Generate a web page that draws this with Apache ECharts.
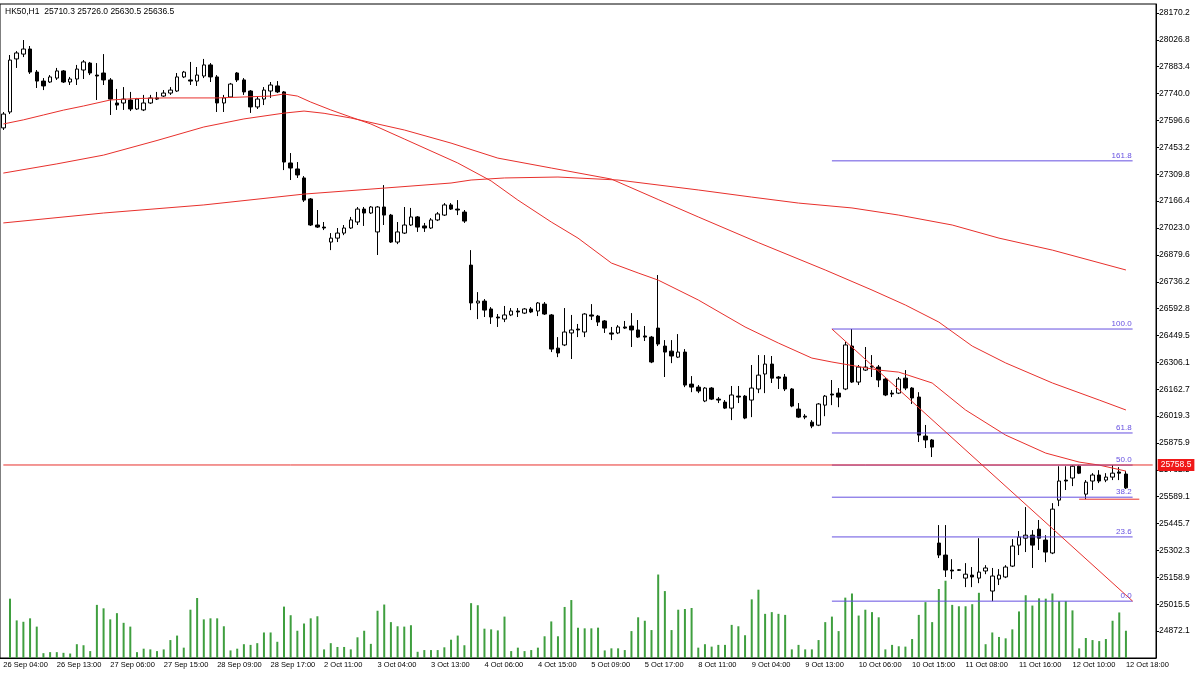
<!DOCTYPE html>
<html>
<head>
<meta charset="utf-8">
<script src="https://cdn.jsdelivr.net/npm/echarts@6/dist/echarts.min.js"></script>
<style>
html, body { margin: 0; padding: 0; background: #fff; }
#chart { width: 1200px; height: 674px; }
</style>
</head>
<body>
<div id="chart"></div>
<script>
var symbol = 'HK50,H1';

var xLabels = ['26 Sep 04:00', '26 Sep 13:00', '27 Sep 06:00', '27 Sep 15:00', '28 Sep 09:00', '28 Sep 17:00',
	'2 Oct 11:00', '3 Oct 04:00', '3 Oct 13:00', '4 Oct 06:00', '4 Oct 15:00', '5 Oct 09:00', '5 Oct 17:00',
	'8 Oct 11:00', '9 Oct 04:00', '9 Oct 13:00', '10 Oct 06:00', '10 Oct 15:00', '11 Oct 08:00', '11 Oct 16:00',
	'12 Oct 10:00', '12 Oct 18:00'];

var yTicks = ['24872.1', '25015.5', '25158.9', '25302.3', '25445.7', '25589.1', '25732.5', '25875.9',
	'26019.3', '26162.7', '26306.1', '26449.5', '26592.8', '26736.2', '26879.6', '27023.0', '27166.4',
	'27309.8', '27453.2', '27596.6', '27740.0', '27883.4', '28026.8', '28170.2'];

// [open, close, low, high]
var candles = [
	[27557, 27631, 27546, 27642], [27642, 27919, 27631, 27946], [27925, 27957, 27877, 27967], [27951, 27978, 27935, 28026],
	[27978, 27855, 27845, 27994], [27855, 27807, 27770, 27866], [27807, 27781, 27759, 27823], [27802, 27829, 27797, 27839],
	[27823, 27861, 27813, 27877], [27861, 27802, 27797, 27866], [27802, 27818, 27786, 27829], [27818, 27871, 27786, 27893],
	[27866, 27909, 27818, 27919], [27903, 27850, 27839, 27909], [27839, 27834, 27706, 27903], [27850, 27813, 27786, 27951],
	[27813, 27711, 27626, 27823], [27690, 27679, 27653, 27765], [27690, 27711, 27653, 27775], [27706, 27658, 27647, 27749],
	[27658, 27711, 27653, 27717], [27653, 27690, 27647, 27733], [27690, 27717, 27685, 27733], [27717, 27711, 27706, 27749],
	[27727, 27743, 27722, 27759], [27743, 27759, 27733, 27775], [27754, 27829, 27749, 27850], [27829, 27855, 27823, 27861],
	[27813, 27807, 27786, 27909], [27807, 27839, 27781, 27882], [27834, 27893, 27823, 27925], [27893, 27829, 27802, 27903],
	[27829, 27690, 27642, 27839], [27690, 27717, 27642, 27733], [27722, 27791, 27717, 27797], [27850, 27813, 27802, 27855],
	[27813, 27749, 27733, 27823], [27754, 27669, 27637, 27759], [27669, 27711, 27658, 27727], [27711, 27759, 27679, 27775],
	[27754, 27786, 27717, 27802], [27781, 27749, 27743, 27807], [27749, 27375, 27332, 27754], [27370, 27343, 27279, 27423],
	[27338, 27306, 27290, 27375], [27290, 27172, 27162, 27300], [27178, 27039, 27034, 27183], [27039, 27028, 27023, 27119],
	[27028, 27023, 27012, 27055], [26948, 26969, 26905, 26996], [26969, 26996, 26948, 27023], [26996, 27023, 26985, 27039],
	[27023, 27066, 27018, 27082], [27055, 27124, 27039, 27135], [27124, 27103, 27034, 27135], [27103, 27135, 27098, 27140],
	[27002, 27135, 26879, 27140], [27135, 27092, 27039, 27252], [27092, 26948, 26943, 27098], [26948, 27002, 26937, 27055],
	[26996, 27039, 26991, 27135], [27039, 27082, 27034, 27130], [27082, 27028, 27002, 27087], [27034, 27023, 27002, 27050],
	[27023, 27066, 27018, 27076], [27066, 27098, 27060, 27108], [27092, 27146, 27087, 27156], [27146, 27124, 27119, 27156],
	[27124, 27119, 27092, 27172], [27108, 27060, 27050, 27119], [26825, 26623, 26585, 26905], [26623, 26633, 26537, 26681],
	[26633, 26585, 26548, 26644], [26591, 26548, 26511, 26601], [26548, 26543, 26495, 26564], [26537, 26559, 26521, 26607],
	[26559, 26580, 26553, 26596], [26580, 26575, 26548, 26596], [26569, 26591, 26564, 26596], [26591, 26575, 26569, 26601],
	[26580, 26623, 26553, 26628], [26617, 26564, 26559, 26628], [26559, 26377, 26361, 26564], [26382, 26356, 26334, 26441],
	[26399, 26468, 26393, 26596], [26463, 26479, 26324, 26559], [26484, 26479, 26441, 26511], [26468, 26564, 26441, 26569],
	[26559, 26553, 26532, 26617], [26553, 26521, 26500, 26559], [26527, 26489, 26463, 26532], [26463, 26457, 26425, 26495],
	[26463, 26495, 26457, 26505], [26495, 26489, 26484, 26527], [26500, 26479, 26388, 26569], [26479, 26441, 26436, 26532],
	[26447, 26441, 26420, 26500], [26441, 26308, 26302, 26447], [26489, 26404, 26393, 26772], [26393, 26361, 26228, 26425],
	[26366, 26340, 26302, 26425], [26334, 26361, 26329, 26457], [26361, 26185, 26174, 26377], [26190, 26174, 26147, 26233],
	[26174, 26153, 26142, 26185], [26100, 26169, 26094, 26174], [26169, 26110, 26105, 26174], [26110, 26105, 26089, 26121],
	[26094, 26062, 26057, 26105], [26062, 26132, 25998, 26180], [26126, 26121, 26089, 26180], [26126, 26009, 26003, 26132],
	[26105, 26169, 26014, 26292], [26164, 26238, 26142, 26345], [26244, 26297, 26142, 26345], [26297, 26222, 26196, 26340],
	[26228, 26222, 26164, 26233], [26228, 26164, 26153, 26244], [26164, 26073, 26067, 26169], [26057, 26014, 26009, 26089],
	[26019, 26014, 26003, 26030], [25987, 25966, 25955, 25998], [25971, 26084, 25966, 26089], [26078, 26126, 26019, 26132],
	[26137, 26132, 26078, 26212], [26142, 26121, 26067, 26169], [26164, 26399, 26158, 26415], [26393, 26201, 26196, 26484],
	[26201, 26281, 26185, 26292], [26265, 26281, 26260, 26388], [26286, 26281, 26228, 26345], [26281, 26212, 26174, 26292],
	[26217, 26132, 26126, 26222], [26142, 26137, 26121, 26158], [26142, 26217, 26137, 26228], [26222, 26169, 26158, 26265],
	[26169, 26116, 26084, 26174], [26121, 25918, 25881, 26147], [25913, 25892, 25849, 25972], [25892, 25854, 25801, 25897],
	[25342, 25278, 25262, 25438], [25278, 25198, 25161, 25438], [25198, 25193, 25150, 25256], [25199, 25197, 25193, 25203],
	[25155, 25176, 25107, 25235], [25171, 25161, 25107, 25214], [25155, 25187, 25128, 25368], [25193, 25209, 25176, 25224],
	[25086, 25166, 25032, 25209], [25150, 25171, 25118, 25203], [25161, 25214, 25155, 25224], [25219, 25326, 25214, 25363],
	[25331, 25374, 25278, 25406], [25368, 25384, 25294, 25534], [25384, 25331, 25209, 25411], [25416, 25368, 25305, 25465],
	[25358, 25294, 25240, 25384], [25289, 25523, 25283, 25555], [25571, 25673, 25539, 25752], [25678, 25673, 25625, 25752],
	[25689, 25752, 25646, 25758], [25752, 25715, 25710, 25758], [25603, 25667, 25576, 25678], [25673, 25705, 25625, 25715],
	[25705, 25673, 25662, 25731], [25678, 25694, 25667, 25715], [25694, 25715, 25678, 25758], [25721, 25715, 25678, 25747],
	[25710.3, 25636.5, 25630.5, 25726.0]
];

var volumes = [0,
	172, 109, 105, 115, 91, 14, 17, 17, 15, 13, 40, 37, 20, 154, 144, 112, 130, 102, 91, 17,
	27, 25, 20, 25, 52, 65, 30, 140, 174, 112, 115, 115, 92, 22, 27, 40, 38, 43, 74, 74,
	47, 149, 124, 79, 100, 115, 121, 25, 43, 32, 32, 25, 60, 79, 41, 137, 155, 104, 92, 91,
	95, 18, 23, 23, 23, 31, 53, 65, 37, 159, 153, 85, 83, 80, 120, 20, 30, 20, 23, 30,
	63, 106, 63, 148, 168, 88, 86, 86, 88,
	22, 28, 28, 23, 78, 118, 108, 81, 242, 194, 81, 140, 142, 145, 30, 40, 33, 38, 38, 96,
	92, 66, 170, 198, 128, 133, 128, 125, 25, 38, 25, 25, 52, 104, 120, 78, 175, 187, 123, 140,
	133, 118, 25, 38, 34, 33, 55, 125, 162, 104, 200, 224, 154, 150, 150, 156, 189, 40, 74, 61,
	57, 83, 135, 182, 152, 173, 172, 187, 165, 165, 138, 28, 58, 52, 49, 55, 108, 132, 79];

// moving averages, [bar index, value]
var maFast = [[0, 27578], [3, 27600], [6, 27626], [9, 27652], [12, 27674], [16, 27706], [20, 27714], [24, 27717],
	[32, 27717], [40, 27727], [42, 27738], [44, 27727], [46, 27695], [49, 27653], [52, 27615], [55, 27578],
	[60, 27498], [64, 27434], [68, 27370], [73, 27274], [77, 27172], [82, 27055], [86, 26969], [91, 26836],
	[95, 26783], [98, 26745], [104, 26639], [111, 26495], [116, 26409], [121, 26329], [124, 26308], [131, 26265],
	[134, 26254], [139, 26196], [144, 26052], [150, 25918], [156, 25822], [161, 25774], [164, 25758], [168, 25726]];
var maMid = [[0, 27316], [8, 27365], [15, 27412], [23, 27490], [30, 27562], [36, 27605], [42, 27636], [45, 27647],
	[48, 27635], [52, 27610], [60, 27546], [67, 27476], [74, 27396], [82, 27343], [91, 27284], [98, 27175],
	[104, 27082], [113, 26945], [123, 26799], [130, 26692], [135, 26612], [140, 26521], [145, 26393], [150, 26303],
	[157, 26196], [164, 26105], [168, 26052]];
var maSlow = [[0, 27050], [15, 27103], [30, 27146], [45, 27204], [57, 27236], [67, 27263], [70, 27279], [75, 27290],
	[83, 27295], [92, 27279], [104, 27226], [112, 27188], [119, 27156], [127, 27130], [134, 27092], [142, 27039],
	[149, 26969], [157, 26905], [168, 26799]];

var fibHigh = 26484;
var fibLow = 25032;
var fibStart = 124;
var fibEnd = 169;
var fibLevels = [0, 23.6, 38.2, 50, 61.8, 100, 161.8];
var bidPrice = 25758.5;
var supportPrice = 25576;

var RED = '#e8302c';
var FIB = '#6650e0';

draw_chart();

function draw_chart() {
	var myChart = echarts.init(document.getElementById('chart'));
	var nCat = candles.length + 4;
	var categories = [];
	for (var i = 0; i < nCat; i++) {
		categories.push(String(i));
	}
	var showLabel = function(idx) {
		return idx % 8 === 0 && idx / 8 < xLabels.length;
	};
	var last = candles[candles.length - 1];
	var header = symbol + '  ' + [last[0], last[3], last[2], last[1]].map(function(v) {
		return v.toFixed(1);
	}).join(' ');

	var maLine = function(name, data) {
		return {
			name: name,
			type: 'line',
			data: data,
			showSymbol: false,
			color: RED,
			lineStyle: { color: RED, width: 1 },
			silent: true,
			z: 4
		};
	};

	// straight two-point lines (fibo levels, trend lines)
	var segment = function(name, data, color, label) {
		var s = {
			name: name,
			type: 'line',
			data: data,
			showSymbol: false,
			color: color,
			lineStyle: { color: color, width: 1, type: 'solid' },
			silent: true,
			z: 5
		};
		if (label) {
			s.endLabel = label;
		}
		return s;
	};

	var series = [{
		name: 'Volumes',
		type: 'bar',
		yAxisIndex: 1,
		barWidth: 2,
		data: volumes,
		itemStyle: { color: '#3f9f3f' },
		silent: true,
		z: 1
	}, {
		name: 'HK50',
		type: 'candlestick',
		barWidth: 4,
		data: candles,
		itemStyle: {
			color: '#fff',
			color0: '#000',
			borderColor: '#000',
			borderColor0: '#000',
			borderWidth: 1
		},
		z: 3
	},
	maLine('MA fast', maFast),
	maLine('MA mid', maMid),
	maLine('MA slow', maSlow)];

	fibLevels.forEach(function(lv) {
		var v = fibLow + (fibHigh - fibLow) * lv / 100;
		series.push(segment('fib ' + lv, [[fibStart, v], [fibEnd, v]], FIB, {
			show: true,
			formatter: lv.toFixed(1),
			color: FIB,
			fontSize: 8,
			fontFamily: 'Liberation Sans',
			align: 'right',
			verticalAlign: 'bottom',
			distance: 0,
			offset: [-1, -1]
		}));
	});
	series.push(segment('fib trend', [[fibStart, fibHigh], [fibEnd, fibLow]], RED));
	series.push(segment('support', [[161, supportPrice], [170, supportPrice]], RED));
	series.push(segment('bid', [[0, bidPrice], [nCat - 1, bidPrice]], RED, {
		show: true,
		formatter: bidPrice.toFixed(1),
		color: '#fff',
		backgroundColor: '#f01818',
		padding: [2, 3, 1, 3],
		fontSize: 8.5,
		fontFamily: 'Liberation Sans',
		distance: 5
	}));

	var option = {
		animation: false,
		backgroundColor: '#fff',
		title: {
			text: header,
			left: 5,
			top: 7,
			padding: 0,
			textStyle: {
				fontSize: 8.5,
				fontWeight: 'normal',
				color: '#000',
				fontFamily: 'Liberation Sans'
			}
		},
		grid: {
			left: 0,
			right: 44,
			top: 4,
			bottom: 16,
			show: true,
			borderColor: '#000',
			borderWidth: 1
		},
		xAxis: {
			type: 'category',
			data: categories,
			boundaryGap: true,
			axisLine: { lineStyle: { color: '#000', width: 1 } },
			axisTick: {
				interval: showLabel,
				alignWithLabel: true,
				length: 4,
				lineStyle: { color: '#000' }
			},
			axisLabel: {
				interval: showLabel,
				align: 'left',
				margin: 3,
				fontSize: 7.5,
				color: '#000',
				fontFamily: 'Liberation Sans',
				formatter: function(v, idx) {
					return xLabels[idx / 8] || '';
				}
			},
			splitLine: { show: false }
		},
		yAxis: [{
			type: 'value',
			position: 'right',
			min: 24728.7,
			max: 28218.2,
			axisLine: { show: true, lineStyle: { color: '#000', width: 1 } },
			axisTick: {
				show: true,
				length: 3,
				customValues: yTicks.map(Number),
				lineStyle: { color: '#000' }
			},
			axisLabel: {
				customValues: yTicks.map(Number),
				margin: 3,
				fontSize: 8.5,
				color: '#000',
				fontFamily: 'Liberation Sans',
				formatter: function(v) {
					return v.toFixed(1);
				}
			},
			splitLine: { show: false }
		}, {
			type: 'value',
			min: 0,
			max: 1896,
			show: false,
			splitLine: { show: false }
		}],
		series: series
	};
	myChart.setOption(option);
}
</script>
</body>
</html>
